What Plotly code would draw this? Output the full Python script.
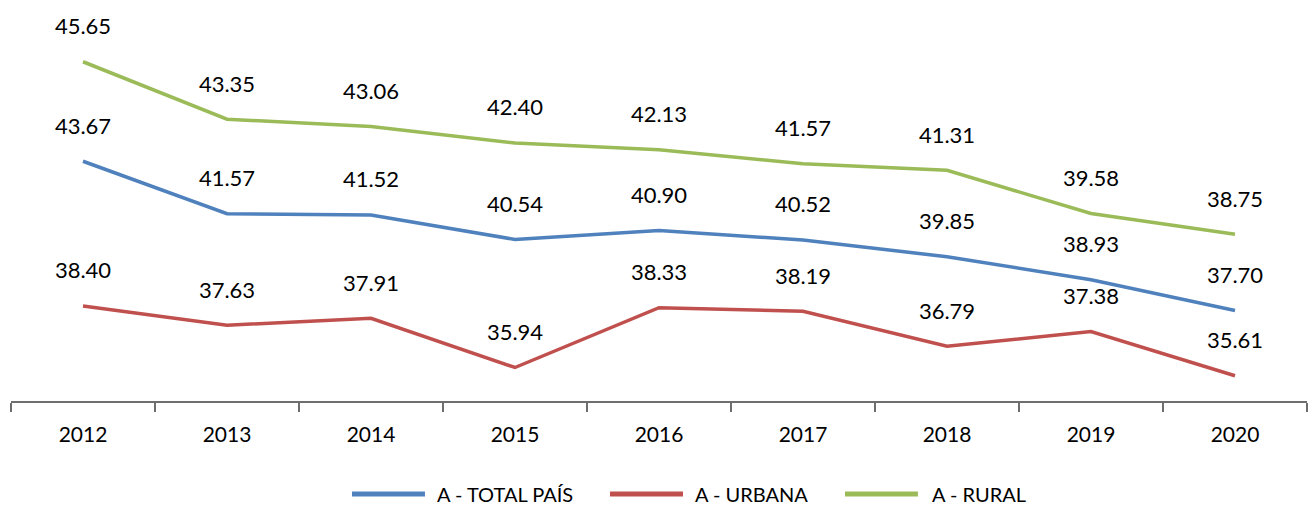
import plotly.graph_objects as go

years = ["2012", "2013", "2014", "2015", "2016", "2017", "2018", "2019", "2020"]
total_pais = [43.67, 41.57, 41.52, 40.54, 40.90, 40.52, 39.85, 38.93, 37.70]
urbana = [38.40, 37.63, 37.91, 35.94, 38.33, 38.19, 36.79, 37.38, 35.61]
rural = [45.65, 43.35, 43.06, 42.40, 42.13, 41.57, 41.31, 39.58, 38.75]

names = ["A - TOTAL PAÍS", "A - URBANA", "A - RURAL"]
colors = ["#4F81BD", "#C0504D", "#9BBB59"]
values = [total_pais, urbana, rural]
# each series drawn on its own (hidden) value axis, same scale, shifted as in the reference
axis_ranges = [[34.08, 49.92], [34.60, 50.44], [32.08, 47.92]]
axis_ids = ["y", "y2", "y3"]

# legend placement (paper fractions)
legend_line_x = [(0.2631, 0.3194), (0.4622, 0.5185), (0.6435, 0.6998)]
legend_text_x = [0.3272, 0.5262, 0.7091]
legend_y = -0.2348

FONT = "Lato, 'Open Sans', sans-serif"

fig = go.Figure()
for name, vals, color, yid in zip(names, values, colors, axis_ids):
    fig.add_trace(go.Scatter(
        x=years, y=vals, name=name, yaxis=yid,
        mode="lines",
        line=dict(color=color, width=3.5),
        hoverinfo="skip", showlegend=False,
    ))
    fig.add_trace(go.Scatter(
        x=years, y=vals, yaxis=yid,
        mode="markers+text",
        marker=dict(size=34, opacity=0, color=color),
        text=[f"{v:.2f}" for v in vals],
        textposition="top center",
        textfont=dict(family=FONT, size=22, color="#000000"),
        hoverinfo="skip", showlegend=False, cliponaxis=False,
    ))

for name, color, (x0, x1), tx in zip(names, colors, legend_line_x, legend_text_x):
    fig.add_shape(type="line", xref="paper", yref="paper", x0=x0, x1=x1,
                  y0=legend_y, y1=legend_y, line=dict(color=color, width=5))
    fig.add_annotation(xref="paper", yref="paper", x=tx, y=legend_y, text=name,
                       showarrow=False, xanchor="left", yanchor="middle",
                       font=dict(family=FONT, size=20, color="#000000"))

hidden = dict(visible=False, showgrid=False, zeroline=False)
fig.update_layout(
    width=1309, height=505,
    margin=dict(l=11, r=2, t=5, b=104),
    paper_bgcolor="white", plot_bgcolor="white",
    showlegend=False,
    xaxis=dict(type="category", range=[-0.5, 8.5], showline=True, linecolor="#6e6e6e",
               linewidth=2, ticks="outside", tickson="boundaries", ticklen=9,
               tickwidth=2, tickcolor="#6e6e6e", showgrid=False, zeroline=False,
               ticklabelstandoff=14,
               tickfont=dict(family=FONT, size=21, color="#000000")),
    yaxis=dict(range=axis_ranges[0], **hidden),
    yaxis2=dict(range=axis_ranges[1], overlaying="y", **hidden),
    yaxis3=dict(range=axis_ranges[2], overlaying="y", **hidden),
    hovermode=False,
)

fig.write_html("out.html", config={"displayModeBar": False},
               post_script="document.body.style.margin='0';document.body.style.overflow='hidden';")
